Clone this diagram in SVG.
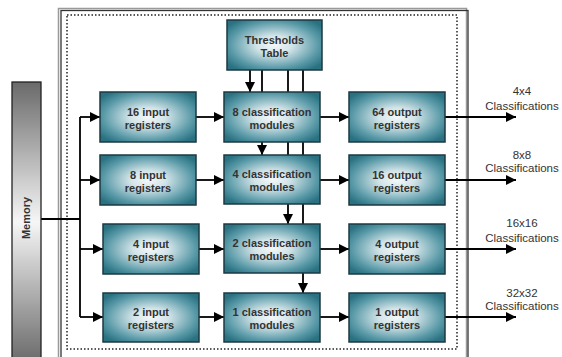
<svg xmlns="http://www.w3.org/2000/svg" width="562" height="357" viewBox="0 0 562 357">
<defs>
<style>
.box{stroke:#1c3a42;stroke-width:1.5;fill:url(#boxg)}
.bt{font-family:"Liberation Sans",Arial,sans-serif;font-size:11px;font-weight:bold;fill:#333;text-anchor:middle}
.lt{font-family:"Liberation Sans",Arial,sans-serif;font-size:11.5px;fill:#333;text-anchor:middle}
.c{stroke:#000;stroke-width:1.8;fill:none}
.a{marker-end:url(#ah)}
</style>
<radialGradient id="boxg" cx="50%" cy="50%" r="62%">
<stop offset="0" stop-color="#f4f8f9"/>
<stop offset="0.3" stop-color="#d2e4e8"/>
<stop offset="0.75" stop-color="#5a9aa8"/>
<stop offset="1" stop-color="#2a7282"/>
</radialGradient>
<linearGradient id="memg" x1="0" y1="0" x2="0" y2="1">
<stop offset="0" stop-color="#6a6a6a"/>
<stop offset="0.5" stop-color="#f6f6f6"/>
<stop offset="1" stop-color="#6a6a6a"/>
</linearGradient>
<marker id="ah" markerUnits="userSpaceOnUse" markerWidth="10" markerHeight="10" refX="10" refY="5" orient="auto">
<path d="M0,0 L10,5 L0,10 z" fill="#000"/>
</marker>
</defs>
<rect width="562" height="357" fill="#fff"/>
<g id="frame">
<rect x="58.5" y="8.5" width="408" height="360" fill="none" stroke="#999" stroke-width="1.5"/>
<rect x="61" y="10.5" width="407" height="360" fill="none" stroke="#333" stroke-width="1.3"/>
<rect x="67" y="15" width="390" height="334" fill="none" stroke="#222" stroke-width="1.5" stroke-dasharray="1.5 2"/>
</g>
<g id="connectors">
<path class="c" d="M41,219 H80 M80,117 V317"/>
<path class="c a" d="M80,117 H100"/>
<path class="c a" d="M80,180 H100"/>
<path class="c a" d="M80,249 H103"/>
<path class="c a" d="M80,317 H103"/>
<path class="c a" d="M196,117 H224"/>
<path class="c a" d="M196,180 H224"/>
<path class="c a" d="M199,249 H224"/>
<path class="c a" d="M199,317 H224"/>
<path class="c a" d="M320,117 H349"/>
<path class="c a" d="M320,180 H349"/>
<path class="c a" d="M320,249 H349"/>
<path class="c a" d="M320,317 H349"/>
<path class="c a" d="M445,117 H516"/>
<path class="c a" d="M445,180 H516"/>
<path class="c a" d="M445,249 H516"/>
<path class="c a" d="M445,317 H516"/>
<path class="c a" d="M250,70 V92"/>
<path class="c a" d="M262,70 V155"/>
<path class="c a" d="M288,70 V224"/>
<path class="c a" d="M303,70 V293"/>
</g>
<g id="memory">
<rect x="12" y="82" width="29" height="280" fill="url(#memg)" stroke="#222" stroke-width="1.3"/>
<text class="bt" transform="translate(30,218) rotate(-90)" fill="#222">Memory</text>
</g>
<g id="thresholds">
<rect class="box" x="227" y="20" width="95" height="50"/>
<text class="bt" x="274.5" y="44">Thresholds</text>
<text class="bt" x="274.5" y="57">Table</text>
</g>
<g id="in16"><rect class="box" x="100" y="92" width="96" height="50"/><text class="bt" x="148" y="116">16 input</text><text class="bt" x="148" y="129">registers</text></g>
<g id="in8"><rect class="box" x="100" y="155" width="96" height="50"/><text class="bt" x="148" y="179">8 input</text><text class="bt" x="148" y="192">registers</text></g>
<g id="in4"><rect class="box" x="103" y="224" width="96" height="50"/><text class="bt" x="151" y="248">4 input</text><text class="bt" x="151" y="261">registers</text></g>
<g id="in2"><rect class="box" x="103" y="293" width="96" height="49"/><text class="bt" x="151" y="316">2 input</text><text class="bt" x="151" y="329">registers</text></g>
<g id="cm8"><rect class="box" x="224" y="92" width="96" height="50"/><text class="bt" x="272" y="116">8 classification</text><text class="bt" x="272" y="129">modules</text></g>
<g id="cm4"><rect class="box" x="224" y="155" width="96" height="49"/><text class="bt" x="272" y="178">4 classification</text><text class="bt" x="272" y="191">modules</text></g>
<g id="cm2"><rect class="box" x="224" y="224" width="96" height="49"/><text class="bt" x="272" y="247">2 classification</text><text class="bt" x="272" y="260">modules</text></g>
<g id="cm1"><rect class="box" x="224" y="293" width="96" height="49"/><text class="bt" x="272" y="316">1 classification</text><text class="bt" x="272" y="329">modules</text></g>
<g id="out64"><rect class="box" x="349" y="92" width="96" height="50"/><text class="bt" x="397" y="116">64 output</text><text class="bt" x="397" y="129">registers</text></g>
<g id="out16"><rect class="box" x="349" y="155" width="96" height="50"/><text class="bt" x="397" y="179">16 output</text><text class="bt" x="397" y="192">registers</text></g>
<g id="out4"><rect class="box" x="349" y="224" width="96" height="50"/><text class="bt" x="397" y="248">4 output</text><text class="bt" x="397" y="261">registers</text></g>
<g id="out1"><rect class="box" x="349" y="293" width="96" height="49"/><text class="bt" x="397" y="316">1 output</text><text class="bt" x="397" y="329">registers</text></g>
<g id="labels">
<text class="lt" x="522" y="95">4x4</text><text class="lt" x="522" y="110">Classifications</text>
<text class="lt" x="522" y="159">8x8</text><text class="lt" x="522" y="172">Classifications</text>
<text class="lt" x="522" y="227">16x16</text><text class="lt" x="522" y="242">Classifications</text>
<text class="lt" x="522" y="297">32x32</text><text class="lt" x="522" y="310">Classifications</text>
</g>
</svg>
